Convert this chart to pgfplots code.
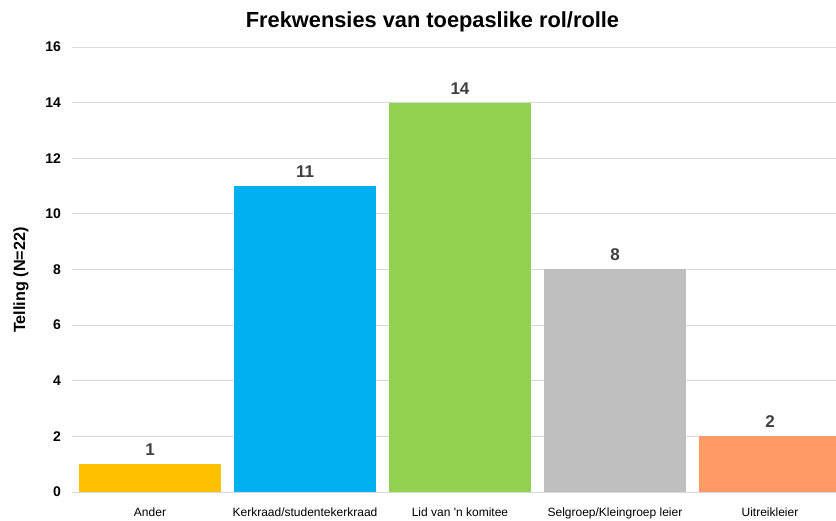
\documentclass[border=0pt]{standalone}
\usepackage{fontspec}
\setmainfont{Liberation Sans}
\usepackage{pgfplots}
\pgfplotsset{compat=1.18}
\definecolor{cAnder}{HTML}{FFC000}
\definecolor{cKerk}{HTML}{00B0F0}
\definecolor{cLid}{HTML}{92D050}
\definecolor{cSel}{HTML}{BFBFBF}
\definecolor{cUit}{HTML}{FF9966}
\definecolor{gridc}{HTML}{D9D9D9}
\definecolor{txt}{HTML}{404040}
\begin{document}
\begin{tikzpicture}
\useasboundingbox (0,0) rectangle (836pt,520pt);
\begin{axis}[
    at={(72.5pt,28pt)}, anchor=south west,
    scale only axis,
    width=763.5pt, height=445pt,
    ybar, bar width=142pt, bar shift=0pt,
    xmin=-0.5, xmax=4.426,
    ymin=0, ymax=16, ytick distance=2,
    axis line style={draw=none},
    ymajorgrids, major grid style={gridc, line width=0.8pt},
    xtick={0,1,2,3,4},
    xticklabels={Ander, Kerkraad/studentekerkraad, Lid van \textquotesingle n komitee, Selgroep/Kleingroep leier, Uitreikleier},
    xtick style={draw=none}, ytick style={draw=none},
    xticklabel style={font=\fontsize{12}{14}\selectfont, text=black, yshift=-8pt},
    yticklabel style={font=\fontsize{14}{16}\selectfont\bfseries, text=black, xshift=-8pt},
    /pgf/number format/assume math mode=true,
    nodes near coords,
    nodes near coords style={font=\fontsize{17}{19}\selectfont\bfseries, text=txt, yshift=5pt},
    clip=true,
]
\addplot[fill=cAnder, draw=none] coordinates {(0,1)};
\addplot[fill=cKerk, draw=none] coordinates {(1,11)};
\addplot[fill=cLid, draw=none] coordinates {(2,14)};
\addplot[fill=cSel, draw=none] coordinates {(3,8)};
\addplot[fill=cUit, draw=none] coordinates {(4,2)};
\end{axis}
\node[font=\fontsize{21.8}{26}\selectfont\bfseries] at (432.5pt,498pt) {Frekwensies van toepaslike rol/rolle};
\node[font=\fontsize{16.2}{19}\selectfont\bfseries, rotate=90] at (21pt,240pt) {Telling (N=22)};
\end{tikzpicture}
\end{document}
